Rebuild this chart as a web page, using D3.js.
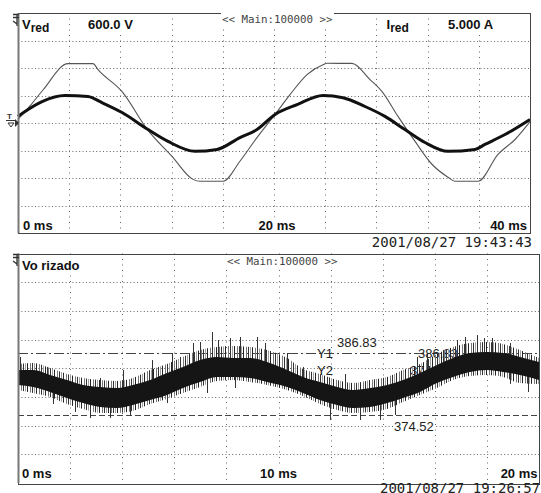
<!DOCTYPE html>
<html>
<head>
<meta charset="utf-8">
<script src="https://cdn.jsdelivr.net/npm/d3@7"></script>
<style>
  body { margin: 0; background: #fff; }
  svg { display: block; font-family: "Liberation Sans", Arial, sans-serif; }
  .lbl { font-weight: bold; font-size: 13px; fill: #111; }
  .main { font-family: "DejaVu Sans Mono", monospace; font-size: 10.8px; fill: #444; }
  .stamp { font-family: "DejaVu Sans Mono", monospace; font-size: 14px; fill: #222; }
  .cur { font-size: 13px; fill: #222; }
</style>
</head>
<body>
<svg id="chart" width="541" height="493"></svg>
<script>
// upper screen: V_red (thin) and I_red (thick), values in screen divisions
const vredTime = [0, 0.94, 1.95, 3.91, 5.86, 6.25, 8.13, 10.16, 12.03, 13.67, 14.22, 16.02, 17.34, 18.67, 20.08, 21.25, 22.58, 23.83, 24.14, 26.09, 27.5, 28.44, 29.69, 31.02, 32.34, 33.59, 34.14, 35.94, 37.5, 38.83, 40];
const vredValue = [0.13, 0.62, 1.2, 2.16, 2.16, 1.94, 1.14, -0.27, -1.21, -2.05, -2.12, -2.12, -1.39, -0.53, 0.31, 1.03, 1.76, 2.12, 2.17, 2.17, 1.58, 1.14, 0.24, -0.67, -1.5, -1.97, -2.12, -2.12, -1.14, -0.6, 0.05];
const iredTime = [0, 0.55, 1.88, 3.67, 5.47, 6.56, 8.13, 10.16, 11.72, 13.83, 15.55, 17.34, 18.67, 20.08, 21.8, 23.83, 25.39, 27.11, 28.67, 30.23, 31.8, 33.59, 35.7, 36.48, 38.05, 40];
const iredValue = [0.24, 0.42, 0.78, 1.0, 0.96, 0.74, 0.38, -0.24, -0.67, -1.03, -0.96, -0.53, -0.24, 0.31, 0.67, 1.0, 0.92, 0.6, 0.24, -0.24, -0.71, -1.03, -0.96, -0.78, -0.42, 0.13];
const topTimeLabels = ["0 ms", "20 ms", "40 ms"];

// lower screen: Vo rizado (V), dense core band + fringe + spikes
const noiseTime = [0, 0.58, 1.23, 1.88, 2.5, 3.15, 3.8, 4.41, 5.07, 5.72, 6.33, 6.99, 7.64, 8.25, 8.91, 9.56, 10.33, 10.94, 11.59, 12.25, 12.86, 13.51, 14.17, 14.78, 15.43, 16.08, 16.7, 17.35, 18.0, 18.62, 19.27, 20];
const coreTop = [383.45, 383.45, 382.46, 381.47, 380.48, 380.08, 379.88, 380.48, 381.47, 382.86, 384.05, 385.44, 386.04, 385.84, 385.84, 385.04, 383.45, 382.07, 381.07, 380.08, 379.48, 379.88, 380.48, 381.47, 382.86, 384.45, 385.84, 386.83, 387.03, 386.83, 386.04, 385.04];
const coreBottom = [380.48, 380.08, 379.09, 377.9, 376.9, 376.11, 375.91, 376.51, 377.5, 378.49, 379.88, 381.07, 382.07, 382.07, 381.87, 381.07, 380.08, 378.89, 377.5, 376.51, 375.91, 376.11, 376.9, 377.9, 379.09, 380.87, 382.07, 383.06, 383.45, 383.06, 382.46, 381.47];
const fringeTop = [384.65, 384.85, 383.85, 382.66, 381.87, 381.47, 381.27, 381.87, 383.45, 384.65, 386.04, 387.43, 388.02, 388.22, 388.02, 387.43, 385.84, 383.65, 382.66, 381.47, 380.87, 381.47, 382.07, 383.45, 384.65, 386.63, 388.02, 388.82, 389.01, 388.62, 387.43, 385.84];
const fringeBottom = [379.48, 378.89, 378.09, 376.7, 375.71, 374.92, 374.92, 375.31, 376.7, 377.7, 378.89, 380.08, 381.27, 381.47, 381.07, 380.48, 379.48, 378.29, 376.7, 375.51, 374.92, 375.12, 375.71, 377.1, 378.49, 379.88, 381.47, 382.26, 382.46, 382.07, 380.87, 380.68];
const spikes = [
  [0.08, 386.04, 381.87], [1.11, 384.05, 380.87], [1.73, 382.46, 379.88], [3.15, 381.87, 378.29],
  [4.03, 383.45, 378.49], [5.14, 385.44, 379.48], [5.91, 386.83, 380.87], [6.22, 386.04, 381.87],
  [6.72, 388.82, 382.86], [6.99, 389.01, 383.26], [7.45, 391.0, 384.05], [7.68, 389.41, 384.05],
  [8.14, 389.81, 384.05], [8.52, 390.01, 383.85], [9.17, 390.01, 383.45], [9.48, 388.82, 383.06],
  [10.33, 386.83, 381.87], [10.94, 384.05, 380.48], [11.86, 382.07, 378.89], [12.55, 382.66, 377.9],
  [15.32, 386.04, 380.87], [15.7, 386.83, 381.87], [16.31, 387.43, 382.86], [16.85, 389.41, 383.85],
  [17.16, 390.01, 384.45], [17.62, 390.4, 385.04], [17.89, 389.81, 385.24], [18.2, 389.81, 385.24],
  [18.89, 388.82, 384.85],
  [1.34, 380.87, 376.7], [2.19, 379.48, 375.12], [2.76, 378.49, 373.92], [3.53, 378.09, 373.92],
  [4.3, 378.49, 374.32], [5.72, 380.48, 376.9], [7.26, 383.06, 378.89], [8.33, 383.85, 379.88],
  [11.98, 379.09, 373.53], [13.13, 377.9, 373.53], [13.9, 377.9, 373.53], [14.47, 378.49, 374.52],
  [18.89, 384.85, 380.68], [19.58, 383.85, 379.09]
];
const cursorY1 = 386.83;
const cursorY2 = 374.52;
const bottomTimeLabels = ["0 ms", "10 ms", "20 ms"];

const svg = d3.select("#chart");
const defs = svg.append("defs");
// irregular vertical hairlines for the noisy fringe
const hatch = defs.append("pattern")
  .attr("id", "hatch")
  .attr("width", 9)
  .attr("height", 8)
  .attr("patternUnits", "userSpaceOnUse");
[[0, "#222"], [3, "#777"], [5, "#333"], [7, "#a0a0a0"]].forEach(([x, c]) => {
  hatch.append("rect").attr("x", x).attr("width", 1).attr("height", 8).attr("fill", c);
});

const xTop = d3.scaleLinear().domain([0, 40]).range([18, 530]);
const yTop = d3.scaleLinear().domain([-4, 4]).range([233, 13]);
const xBot = d3.scaleLinear().domain([0, 20]).range([18, 539]);
const yBot = d3.scaleLinear().domain([361.0, 406.6]).range([483, 253.5]);

const snap = v => Math.round(v) + 0.5;

function drawGrid(x, y) {
  const g = svg.append("g");
  const [xa, xb] = x.range();
  const [yb, ya] = y.range();
  const cols = d3.range(1, 10).map(i => xa + i * (xb - xa) / 10);
  const rows = d3.range(1, 8).map(i => ya + i * (yb - ya) / 8);
  g.selectAll(".gv").data(cols).join("line")
    .attr("class", "gv")
    .attr("x1", d => snap(d)).attr("x2", d => snap(d))
    .attr("y1", ya).attr("y2", yb)
    .attr("stroke", "#666")
    .attr("stroke-dasharray", "1,4.5");
  g.selectAll(".gh").data(rows).join("line")
    .attr("class", "gh")
    .attr("x1", xa).attr("x2", xb)
    .attr("y1", d => snap(d)).attr("y2", d => snap(d))
    .attr("stroke", "#666")
    .attr("stroke-dasharray", "1,2.4");
  return g;
}

function drawFrame(x, y) {
  const [xa, xb] = x.range();
  const [yb, ya] = y.range();
  svg.append("rect")
    .attr("x", snap(xa)).attr("y", snap(ya))
    .attr("width", Math.round(xb - xa)).attr("height", Math.round(yb - ya))
    .attr("fill", "none").attr("stroke", "#444");
  svg.append("line")
    .attr("x1", xa + 0.5).attr("x2", xa + 0.5)
    .attr("y1", ya).attr("y2", yb)
    .attr("stroke", "#777").attr("stroke-width", 2);
}

function chMarker(x, y) {
  svg.append("path")
    .attr("d", `M${x - 5},${y + 1.5}H${x + 1}M${x - 5},${y + 4.5}H${x + 1}M${x - 1},${y + 1}V${y + 13}M${x - 5},${y + 8}L${x - 1},${y + 11}`)
    .attr("stroke", "#333").attr("stroke-width", 1.3).attr("fill", "none");
}

function label(text, x, y, cls, anchor = "start", bg = true) {
  const t = svg.append("text")
    .attr("class", cls)
    .attr("x", x).attr("y", y)
    .attr("text-anchor", anchor)
    .text(text);
  if (bg) {
    const b = t.node().getBBox();
    svg.insert("rect", () => t.node())
      .attr("x", b.x - 1).attr("y", b.y)
      .attr("width", b.width + 2).attr("height", b.height)
      .attr("fill", "#fff");
  }
  return t;
}

function subLabel(main, sub, x, y) {
  const t = svg.append("text").attr("class", "lbl").attr("x", x).attr("y", y);
  t.append("tspan").text(main);
  t.append("tspan").attr("dy", 3).attr("font-size", 12).text(sub);
  const b = t.node().getBBox();
  svg.insert("rect", () => t.node())
    .attr("x", b.x - 1).attr("y", b.y).attr("width", b.width + 2).attr("height", b.height)
    .attr("fill", "#fff");
}

// ---------- upper screen ----------
drawGrid(xTop, yTop);

svg.append("path")
  .datum(d3.zip(vredTime, vredValue))
  .attr("d", d3.line().x(d => xTop(d[0])).y(d => yTop(d[1])).curve(d3.curveMonotoneX))
  .attr("fill", "none").attr("stroke", "#555").attr("stroke-width", 1.1);

svg.append("path")
  .datum(d3.zip(iredTime, iredValue))
  .attr("d", d3.line().x(d => xTop(d[0])).y(d => yTop(d[1])).curve(d3.curveMonotoneX))
  .attr("fill", "none").attr("stroke", "#111").attr("stroke-width", 3);

drawFrame(xTop, yTop);
chMarker(18, 13);

// trigger marker
const ty = yTop(0);
svg.append("text").attr("x", 7).attr("y", ty - 4).attr("font-size", 8).attr("font-weight", "bold").attr("fill", "#333").text("T");
svg.append("path")
  .attr("d", `M6,${ty - 2.5}H16M8,${ty}L14,${ty}L11,${ty + 4}Z`)
  .attr("stroke", "#333").attr("fill", "none");
svg.append("path")
  .attr("d", `M15,${ty - 4}L19,${ty}L15,${ty + 4}Z`)
  .attr("fill", "#333");

subLabel("V", "red", 22, 28.5);
label("600.0 V", 88, 28.5, "lbl");
label("<< Main:100000 >>", 222, 23, "main");
subLabel("I", "red", 386.5, 28.5);
label("5.000 A", 448, 28.5, "lbl");

label(topTimeLabels[0], 23, 229.5, "lbl");
label(topTimeLabels[1], xTop(20) + 3, 229.5, "lbl", "middle");
label(topTimeLabels[2], 527, 229.5, "lbl", "end");
svg.append("text").attr("class", "stamp").attr("x", 532).attr("y", 247).attr("text-anchor", "end").text("2001/08/27 19:43:43");

// ---------- lower screen ----------
drawGrid(xBot, yBot);

defs.append("clipPath").attr("id", "clipBot")
  .append("rect")
  .attr("x", xBot.range()[0]).attr("y", yBot.range()[1])
  .attr("width", xBot.range()[1] - xBot.range()[0])
  .attr("height", yBot.range()[0] - yBot.range()[1]);

// cursors
svg.append("line")
  .attr("x1", xBot.range()[0]).attr("x2", xBot.range()[1])
  .attr("y1", snap(yBot(cursorY1))).attr("y2", snap(yBot(cursorY1)))
  .attr("stroke", "#444").attr("stroke-dasharray", "10,3,2,3");
svg.append("line")
  .attr("x1", xBot.range()[0]).attr("x2", xBot.range()[1])
  .attr("y1", snap(yBot(cursorY2))).attr("y2", snap(yBot(cursorY2)))
  .attr("stroke", "#444").attr("stroke-dasharray", "6,3");

// readouts partly hidden under the trace
svg.append("text").attr("class", "cur").attr("x", 418).attr("y", yBot(cursorY1) + 4.5).attr("fill", "#444").text(cursorY1.toFixed(2));
svg.append("text").attr("class", "cur").attr("x", 410).attr("y", yBot(cursorY1) + 21.5).attr("fill", "#444").text(cursorY2.toFixed(2));

const rows = noiseTime.map((t, i) => ({ t, cTop: coreTop[i], cBot: coreBottom[i], fTop: fringeTop[i], fBot: fringeBottom[i] }));
const wave = svg.append("g").attr("clip-path", "url(#clipBot)");

wave.append("path")
  .datum(rows)
  .attr("d", d3.area().x(d => xBot(d.t)).y0(d => yBot(d.fBot)).y1(d => yBot(d.fTop)).curve(d3.curveMonotoneX))
  .attr("fill", "url(#hatch)");

wave.selectAll(".spike").data(spikes).join("line")
  .attr("class", "spike")
  .attr("x1", d => snap(xBot(d[0]))).attr("x2", d => snap(xBot(d[0])))
  .attr("y1", d => yBot(d[1])).attr("y2", d => yBot(d[2]))
  .attr("stroke", "#333").attr("stroke-width", 1);

wave.append("path")
  .datum(rows)
  .attr("d", d3.area().x(d => xBot(d.t)).y0(d => yBot(d.cBot)).y1(d => yBot(d.cTop)).curve(d3.curveMonotoneX))
  .attr("fill", "#151515");

drawFrame(xBot, yBot);
chMarker(18, 253);

label("Vo rizado", 22, 270, "lbl");
label("<< Main:100000 >>", 227, 265, "main");

label("Y1", 317, yBot(cursorY1) + 4.5, "cur", "start", false);
label("Y2", 317, yBot(cursorY1) + 21.5, "cur", "start", false);
label(cursorY1.toFixed(2), 337, yBot(cursorY1) - 6, "cur");
label(cursorY2.toFixed(2), 394, 430.5, "cur");

label(bottomTimeLabels[0], 22, 478, "lbl");
label(bottomTimeLabels[1], xBot(10), 478, "lbl", "middle");
label(bottomTimeLabels[2], 537.5, 478, "lbl", "end");
svg.append("text").attr("class", "stamp").attr("x", 380).attr("y", 493).text("2001/08/27 19:26:57");
</script>
</body>
</html>
